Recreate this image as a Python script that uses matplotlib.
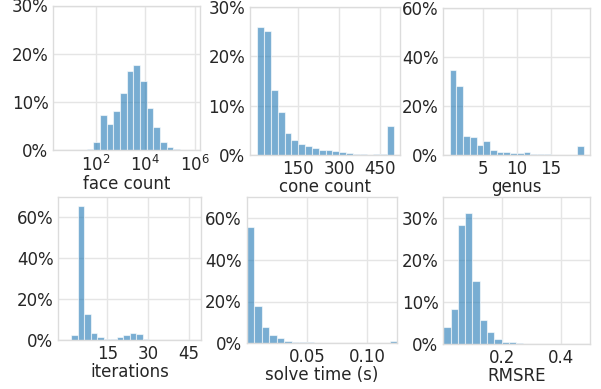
import numpy as np
import matplotlib
matplotlib.use("Agg")
import matplotlib.pyplot as plt
from matplotlib.ticker import PercentFormatter, NullLocator

# percent of shapes per bin
face_pct = [0, 0, 0, 0, 0.3, 1.7, 7.3, 5.5, 8.1, 11.8, 16.5, 17.7, 14.4, 8.7, 4.8, 1.7, 0.75, 0.2, 0.05, 0]
face_log_range = (0.548, 5.93)  # log10 of bin range

cone_pct = [25.8, 25.1, 13.1, 8.6, 4.5, 3.05, 2.2, 1.9, 1.4, 1.0,
            1.0, 0.75, 0.6, 0.35, 0.2, 0.2, 0.1, 0.2, 0.2, 5.8]
cone_range = (0, 500)

genus_pct = [34.6, 28.3, 7.6, 7.2, 3.8, 5.6, 1.8, 1.2, 1.2, 0.8,
             0.5, 0.95, 0.4, 0.3, 0.15, 0, 0, 0, 0, 3.5]
genus_range = (0, 20)

iter_pct = [0, 2.45, 65.6, 12.6, 3.6, 1.5, 0.65, 0.5, 1.5, 2.3,
            3.6, 3.1, 0.3, 0, 0, 0, 0, 0, 0, 0]
iter_range = (-0.5, 46.9)

time_pct = [55.7, 17.9, 7.6, 4.0, 2.3, 1.3, 0.8, 0.5, 0.4, 0.35,
            0.25, 0.15, 0.05, 0.02, 0, 0, 0, 0, 0, 1.1]
time_range = (0, 0.1253)

rmsre_pct = [4.07, 8.4, 28.5, 31.4, 15.1, 5.74, 2.8, 1.2, 0.48, 0.48,
             0.16, 0.05, 0, 0, 0, 0, 0, 0, 0, 0]
rmsre_range = (0, 0.494)

text_col = "#262626"
grid_col = "#e5e5e5"
bar_col = "#1f77b4"

plt.rcParams["font.family"] = "DejaVu Sans"
plt.rcParams["font.size"] = 12
plt.rcParams["text.color"] = text_col
plt.rcParams["axes.labelcolor"] = text_col
plt.rcParams["xtick.color"] = text_col
plt.rcParams["ytick.color"] = text_col

fig = plt.figure(figsize=(6.01, 3.89), dpi=100)
W, H = 601.0, 389.0


def make_ax(left, top, right, bottom):
    # pixel box -> figure fraction
    ax = fig.add_axes([left / W, 1 - bottom / H, (right - left) / W, (bottom - top) / H])
    ax.grid(True, color=grid_col, linewidth=1)
    ax.set_axisbelow(True)
    for s in ax.spines.values():
        s.set_color("#dcdcdc")
        s.set_linewidth(1)
    ax.tick_params(length=0, pad=3.5, labelsize=12)
    ax.yaxis.set_major_formatter(PercentFormatter(xmax=100, decimals=0))
    return ax


def hist_bars(ax, pct, rng, log=False):
    e = np.linspace(rng[0], rng[1], len(pct) + 1)
    if log:
        e = 10 ** e
    ax.bar(e[:-1], pct, width=np.diff(e), align="edge", color=bar_col,
           alpha=0.6, edgecolor="white", linewidth=0.8)


# face count
ax = make_ax(53.3, 5.5, 200, 150.3)
ax.set_xscale("log")
hist_bars(ax, face_pct, face_log_range, log=True)
ax.set_xlim(10 ** 0.279, 10 ** 6.2)
ax.set_xticks([1e2, 1e4, 1e6])
ax.xaxis.set_minor_locator(NullLocator())
ax.set_ylim(0, 30)
ax.set_yticks([0, 10, 20, 30])
ax.set_xlabel("face count", labelpad=0)

# cone count
ax = make_ax(250, 6.7, 400, 155)
hist_bars(ax, cone_pct, cone_range)
ax.set_xlim(-26.7, 522)
ax.set_xticks([150, 300, 450])
ax.set_ylim(0, 30)
ax.set_yticks([0, 10, 20, 30])
ax.set_xlabel("cone count", labelpad=0)

# genus
ax = make_ax(443.3, 8.3, 590, 154.7)
hist_bars(ax, genus_pct, genus_range)
ax.set_xlim(-0.94, 20.86)
ax.set_xticks([5, 10, 15])
ax.set_ylim(0, 60)
ax.set_yticks([0, 20, 40, 60])
ax.set_xlabel("genus", labelpad=0)

# iterations
ax = make_ax(58.3, 197, 201, 340)
hist_bars(ax, iter_pct, iter_range)
ax.set_xlim(-2.9, 49.3)
ax.set_xticks([15, 30, 45])
ax.set_ylim(0, 70)
ax.set_yticks([0, 20, 40, 60])
ax.set_xlabel("iterations", labelpad=0)

# solve time
ax = make_ax(246.7, 197, 397.3, 343.3)
hist_bars(ax, time_pct, time_range)
ax.set_xlim(0, 0.1253)
ax.set_xticks([0.05, 0.10])
ax.set_xticklabels(["0.05", "0.10"])
ax.set_ylim(0, 70)
ax.set_yticks([0, 20, 40, 60])
ax.set_xlabel("solve time (s)", labelpad=0)

# RMSRE
ax = make_ax(443.3, 196.7, 590, 344)
hist_bars(ax, rmsre_pct, rmsre_range)
ax.set_xlim(0, 0.497)
ax.set_xticks([0.2, 0.4])
ax.set_ylim(0, 35.2)
ax.set_yticks([0, 10, 20, 30])
ax.set_xlabel("RMSRE", labelpad=0)

fig.savefig("out.png", dpi=100)
